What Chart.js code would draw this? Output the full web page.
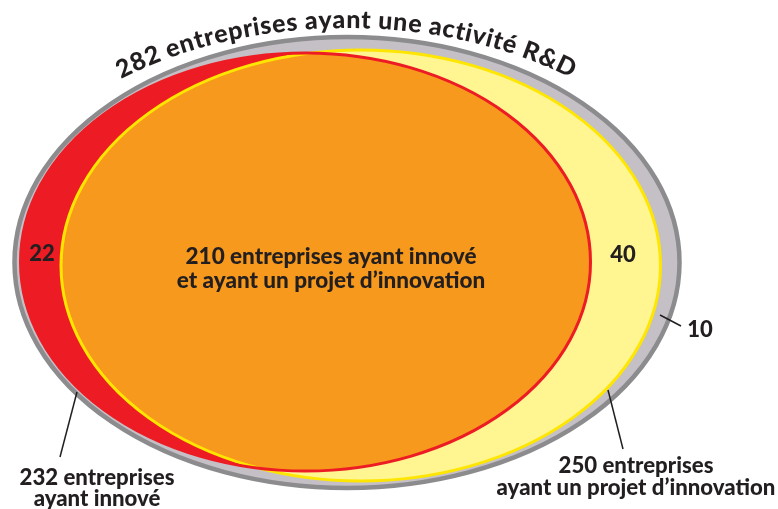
<!DOCTYPE html>
<html>
<head>
<meta charset="utf-8">
<script src="https://cdn.jsdelivr.net/npm/chart.js@4.4.1/dist/chart.umd.min.js"></script>
<style>
  html, body { margin: 0; padding: 0; background: #fff; }
  #wrap { width: 778px; height: 509px; }
</style>
</head>
<body>
<div id="wrap"><canvas id="venn"></canvas></div>
<script>
// --- data ---
const setNames = ['R&D', 'innové', 'projet'];
const setValues = [282, 232, 250];
const regionNames = ['innové seulement', 'innové et projet', 'projet seulement', 'R&D seulement'];
const regionValues = [22, 210, 40, 10];

// --- layout (axis units, 0..778 x 0..509) ---
const ellipses = {
  rd:     { cx: 347,    cy: 262.5, rx: 332.5,  ry: 225.5 },
  projet: { cx: 360.75, cy: 265.5, rx: 299.75, ry: 215.5 },
  innove: { cx: 305.5,  cy: 262,   rx: 285,    ry: 209 }
};
const titleArc = { cx: 347, cy: 262.5, rx: 363, ry: 234.5, xStart: 121, xEnd: 571 };
const regionAnchors = [{ x: 42, y: 254 }, { x: 331, y: 257 }, { x: 623, y: 255 }, { x: 700, y: 330 }];

const INK = '#231f20';
const FONT = 'Lato, "Open Sans", sans-serif';

function px(chart, v) { return chart.scales.x.getPixelForValue(v); }
function py(chart, v) { return chart.scales.y.getPixelForValue(v); }

function ellPath(ctx, chart, e) {
  const cx = px(chart, e.cx), cy = py(chart, e.cy);
  const rx = Math.abs(px(chart, e.cx + e.rx) - cx);
  const ry = Math.abs(py(chart, e.cy + e.ry) - cy);
  ctx.beginPath();
  ctx.ellipse(cx, cy, rx, ry, 0, 0, Math.PI * 2);
}

// text laid along the upper half of an ellipse
function arcText(ctx, chart, str, a) {
  const cx = px(chart, a.cx), cy = py(chart, a.cy);
  const rx = Math.abs(px(chart, a.cx + a.rx) - cx), ry = Math.abs(py(chart, a.cy + a.ry) - cy);
  const N = 4000, ss = [0];
  let lx = cx - rx, ly = cy, s = 0;
  for (let i = 1; i <= N; i++) {
    const t = -Math.PI + Math.PI * i / N;
    const qx = cx + rx * Math.cos(t), qy = cy + ry * Math.sin(t);
    s += Math.hypot(qx - lx, qy - ly);
    ss.push(s); lx = qx; ly = qy;
  }
  const sAtX = X => {
    const t = -Math.acos(Math.max(-1, Math.min(1, (X - cx) / rx)));
    return ss[Math.round((t + Math.PI) / Math.PI * N)];
  };
  const tAtS = S => {
    let lo = 0, hi = N;
    while (hi - lo > 1) { const m = (lo + hi) >> 1; if (ss[m] < S) lo = m; else hi = m; }
    return -Math.PI + Math.PI * hi / N;
  };
  const chars = [...str];
  const w = chars.map(c => ctx.measureText(c).width);
  const natural = w.reduce((p, q) => p + q, 0);
  const s0 = sAtX(px(chart, a.xStart)), s1 = sAtX(px(chart, a.xEnd));
  const gap = (s1 - s0 - natural) / (chars.length - 1);
  let acc = s0;
  ctx.textAlign = 'center';
  ctx.textBaseline = 'alphabetic';
  chars.forEach((c, i) => {
    const t = tAtS(acc + w[i] / 2);
    const x = cx + rx * Math.cos(t), y = cy + ry * Math.sin(t);
    const ang = Math.atan2(ry * Math.cos(t), -rx * Math.sin(t));
    ctx.save();
    ctx.translate(x, y);
    ctx.rotate(ang);
    ctx.fillText(c, 0, 0);
    ctx.restore();
    acc += w[i] + gap;
  });
}

function leader(ctx, chart, x1, y1, x2, y2) {
  ctx.beginPath();
  ctx.moveTo(px(chart, x1), py(chart, y1));
  ctx.lineTo(px(chart, x2), py(chart, y2));
  ctx.stroke();
}

function lines(ctx, chart, arr, x, y, lh) {
  arr.forEach((t, i) => ctx.fillText(t, px(chart, x), py(chart, y + i * lh)));
}

const vennPlugin = {
  id: 'venn',
  beforeDatasetsDraw(chart) {
    const ctx = chart.ctx;
    ctx.save();
    // R&D set
    ellPath(ctx, chart, ellipses.rd);
    ctx.fillStyle = '#c5c0c6'; ctx.fill();
    ctx.lineWidth = 4.5; ctx.strokeStyle = '#8c8c8e'; ctx.stroke();
    // projet set
    ellPath(ctx, chart, ellipses.projet);
    ctx.fillStyle = '#fff591'; ctx.fill();
    // innové set
    ellPath(ctx, chart, ellipses.innove);
    ctx.fillStyle = '#ed1c24'; ctx.fill();
    // intersection
    ctx.save();
    ellPath(ctx, chart, ellipses.projet); ctx.clip();
    ellPath(ctx, chart, ellipses.innove);
    ctx.fillStyle = '#f7991c'; ctx.fill();
    ctx.restore();
    ellPath(ctx, chart, ellipses.projet);
    ctx.lineWidth = 3; ctx.strokeStyle = '#ffe600'; ctx.stroke();
    ellPath(ctx, chart, ellipses.innove);
    ctx.lineWidth = 3; ctx.strokeStyle = '#ed1c24'; ctx.stroke();
    ctx.restore();
  },
  afterDatasetsDraw(chart) {
    const ctx = chart.ctx;
    ctx.save();
    ctx.fillStyle = INK;
    ctx.strokeStyle = INK;
    ctx.font = '900 25px ' + FONT;
    arcText(ctx, chart, setValues[0] + ' entreprises ayant une activit\u00e9 ' + setNames[0], titleArc);

    ctx.textAlign = 'center';
    ctx.textBaseline = 'middle';
    ctx.font = '900 22px ' + FONT;
    const pts = chart.getDatasetMeta(0).data;
    [0, 2, 3].forEach(i => ctx.fillText(String(regionValues[i]), pts[i].x, pts[i].y));
    ctx.font = '900 22.5px ' + FONT;
    lines(ctx, chart, [regionValues[1] + ' entreprises ayant innov\u00e9', 'et ayant un projet d\u2019innovation'],
      regionAnchors[1].x, regionAnchors[1].y, 23.5);
    ctx.font = '900 22.2px ' + FONT;
    lines(ctx, chart, [setValues[1] + ' entreprises', 'ayant innov\u00e9'], 97, 478, 20.5);
    lines(ctx, chart, [setValues[2] + ' entreprises', 'ayant un projet d\u2019innovation'], 636, 466, 22);

    ctx.lineWidth = 1.5;
    leader(ctx, chart, 77, 392, 60, 457);
    leader(ctx, chart, 608, 390, 623, 449);
    leader(ctx, chart, 660, 315, 681, 326);
    ctx.restore();
  }
};

new Chart(document.getElementById('venn'), {
  type: 'scatter',
  data: {
    datasets: [{
      label: 'régions',
      data: regionValues.map((v, i) => ({ x: regionAnchors[i].x, y: regionAnchors[i].y, v })),
      pointRadius: 0,
      pointHoverRadius: 0
    }]
  },
  options: {
    responsive: true,
    maintainAspectRatio: false,
    animation: false,
    layout: { padding: 0 },
    scales: {
      x: { type: 'linear', min: 0, max: 778, display: false },
      y: { type: 'linear', min: 0, max: 509, reverse: true, display: false }
    },
    plugins: {
      legend: { display: false },
      tooltip: { enabled: false }
    }
  },
  plugins: [vennPlugin]
});
</script>
</body>
</html>
